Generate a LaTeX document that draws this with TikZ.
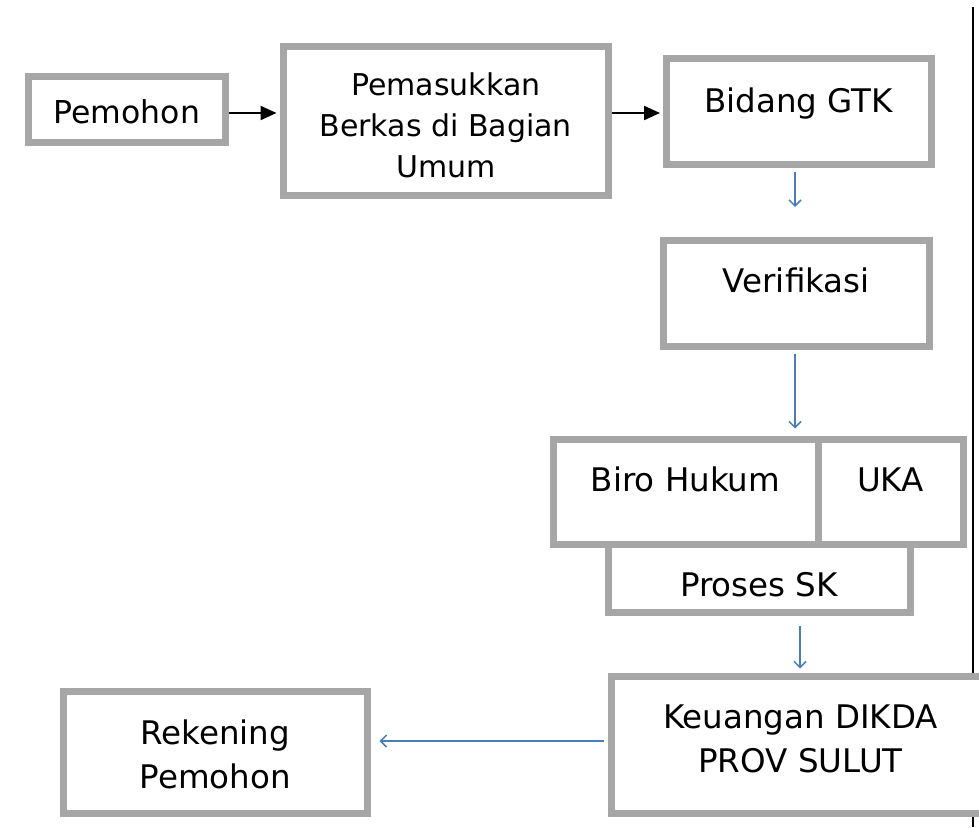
\documentclass[tikz,border=0pt]{standalone}
\usepackage{fontspec}
\setmainfont{DejaVu Sans}
\usetikzlibrary{arrows.meta}
\definecolor{boxgray}{HTML}{A6A6A6}
\definecolor{flowblue}{HTML}{4A7EBB}
\begin{document}
\begin{tikzpicture}[x=1pt, y=-1pt,
  box/.style={draw=boxgray, line width=7pt, fill=white, inner sep=0pt,
    font=\fontsize{32.5}{44}\selectfont},
  base/.style={text height=#1, text depth=0pt},
  push/.style 2 args={text height=#1, text depth=#2},
  blackarrow/.style={line width=2.2pt, -{Triangle[length=16pt,width=14pt]}},
  flow/.style={line width=1.5pt, draw=flowblue, -{Straight Barb[length=6pt,width=12pt]}}]
  \useasboundingbox (0,0) rectangle (979,827);

  % right margin line
  \coordinate (rtop) at (973,7);
  \coordinate (rbot) at (973,827);
  \draw[line width=2pt] (rtop) -- (rbot);

  % top row
  \node[box, base=27.5pt, minimum width=196.5pt, minimum height=66.5pt,
    font=\fontsize{31.5}{40}\selectfont] (pemohon) at (126.75,109.25) {Pemohon};
  \node[box, align=center, base=113pt, minimum width=325.5pt, minimum height=149pt,
    font=\fontsize{30}{41}\selectfont] (masuk) at (445.75,120.5)
    {Pemasukkan\\Berkas di Bagian\\Umum};
  \node[box, base=1.5pt, minimum width=264.5pt, minimum height=106.5pt] (gtk) at (798.75,111.25) {Bidang GTK};

  % right column
  \node[box, push={0pt}{3pt}, minimum width=265.5pt, minimum height=106pt] (verif) at (796.25,293.5) {Verifikasi};
  \node[box, base=0.4pt, minimum width=265pt, minimum height=105pt] (biro) at (685.5,491.5) {Biro Hukum};
  \node[box, base=0.4pt, minimum width=145pt, minimum height=105pt] (uka) at (890.5,491.5) {UKA};
  \node[box, base=37.4pt, minimum width=302pt, minimum height=68pt] (proses) at (759,578) {Proses SK};
  \node[box, align=center, text depth=12pt, minimum width=379pt, minimum height=137pt] (keu) at (800.5,744.5)
    {Keuangan DIKDA\\PROV SULUT};

  % bottom left
  \node[box, align=center, base=71.5pt, minimum width=303.5pt, minimum height=121.5pt] (rek) at (215.25,752.25)
    {Rekening\\Pemohon};

  % black arrows
  \draw[blackarrow, shorten >=3pt] ([yshift=-3.75pt]pemohon.east) -- ([yshift=-3.75pt]pemohon.east -| masuk.west);
  \draw[blackarrow, shorten >=3pt] ([yshift=7.5pt]masuk.east) -- ([yshift=7.5pt]masuk.east -| gtk.west);

  % blue arrows
  \draw[flow, shorten <=3.5pt, shorten >=30pt] ([xshift=-3.75pt]gtk.south) -- ([xshift=-3.75pt]gtk.south |- verif.north);
  \draw[flow, shorten <=3.5pt, shorten >=7pt] ([xshift=-1.25pt]verif.south) -- ([xshift=-1.25pt]verif.south |- biro.north);
  \draw[flow, shorten <=10pt, shorten >=4pt] ([xshift=-0.5pt]keu.north |- proses.south) -- ([xshift=-0.5pt]keu.north);
  \draw[flow, shorten <=4pt, shorten >=9pt] ([yshift=3.5pt]keu.west) -- ([yshift=3.5pt]keu.west -| rek.east);
\end{tikzpicture}
\end{document}
